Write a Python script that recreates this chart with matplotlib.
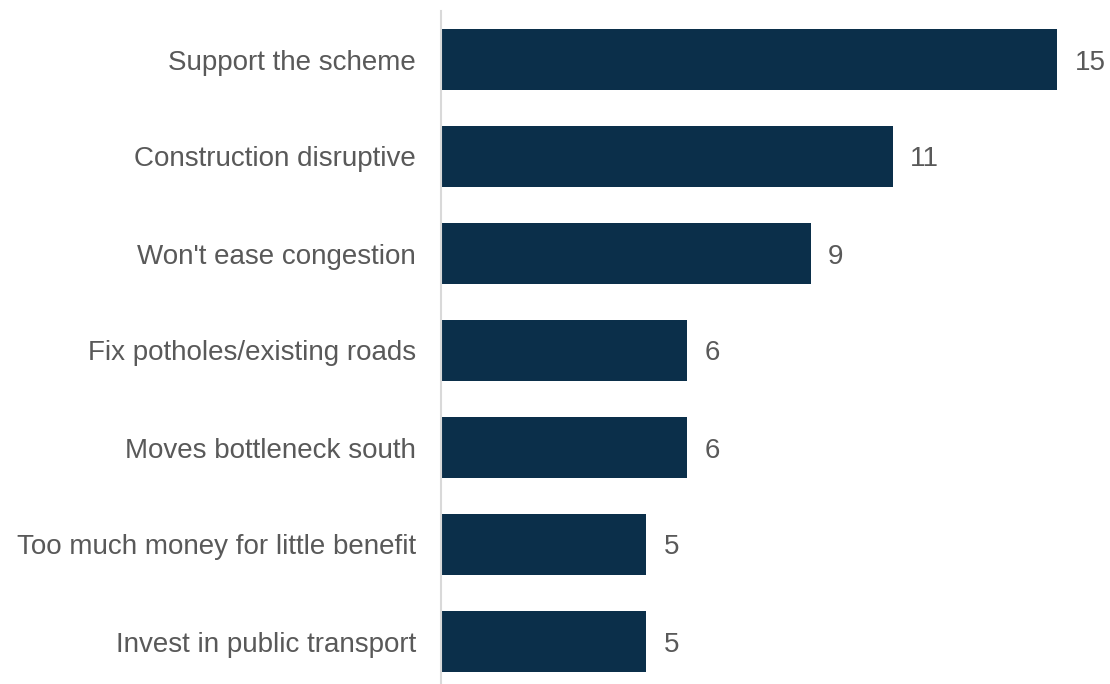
import matplotlib.pyplot as plt

plt.rcParams['font.family'] = ['Liberation Sans', 'DejaVu Sans']

reasons = ['Support the scheme', 'Construction disruptive', "Won't ease congestion",
           'Fix potholes/existing roads', 'Moves bottleneck south',
           'Too much money for little benefit', 'Invest in public transport']
counts = [15, 11, 9, 6, 6, 5, 5]

bar_color = '#0B2F4A'
text_color = '#595959'

fig = plt.figure(figsize=(11.1, 6.84), dpi=100)
ax = fig.add_axes([441 / 1110, -6 / 684, 657 / 1110, 679 / 684])

pos = list(range(len(reasons)))
bars = ax.barh(pos, counts, height=0.62, color=bar_color)
ax.set_ylim(len(reasons) - 0.5, -0.5)
ax.set_xlim(0, 16)

for b, v in zip(bars, counts):
    ax.text(b.get_width() + 0.43, b.get_y() + b.get_height() / 2, str(v),
            va='center_baseline', ha='left', fontsize=20, color=text_color)

ax.set_yticks(pos)
ax.set_yticklabels(reasons, fontsize=20, color=text_color, va='center_baseline')
ax.tick_params(axis='y', length=0, pad=18)
ax.set_xticks([])

for s in ['top', 'right', 'bottom']:
    ax.spines[s].set_visible(False)
ax.spines['left'].set_color('#D9D9D9')
ax.spines['left'].set_linewidth(1.5)

fig.savefig('out.png', dpi=100)
